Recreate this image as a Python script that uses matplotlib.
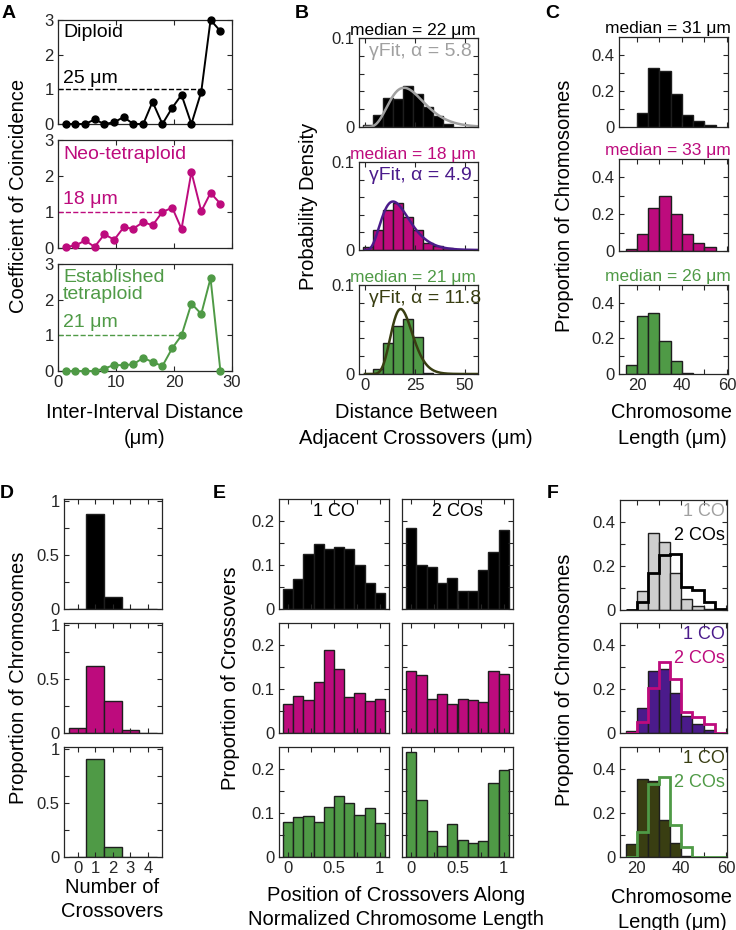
import math
import matplotlib.pyplot as plt
import numpy as np

plt.rcParams['font.family'] = ['Liberation Sans', 'DejaVu Sans']

W, H = 736, 930
fig = plt.figure(figsize=(W / 100, H / 100), dpi=100)

# colours
K = '#000000'
MAG = '#BD0B7D'
GRN = '#4F9A46'
PUR = '#4B1B8B'
OLV = '#393E12'
GFIT = '#A0A0A0'
GBAR = '#CECECE'
AXC = '#262626'
EDGE = '#1E1E1E'

TICK = 12
LABEL = 14.5
INNER = 14
TITLE = 12.5

# ======================
# data
# ======================
# A: coefficient of coincidence vs inter-interval distance (um)
coc_x = [1.3, 3.0, 4.7, 6.3, 8.0, 9.7, 11.3, 13.0, 14.7, 16.3, 18.0, 19.7, 21.3, 23.0, 24.7, 26.3, 28.0]
coc_diploid = [0, 0, 0, 0.13, 0, 0.05, 0.2, 0, 0, 0.64, 0, 0.47, 0.84, 0, 0.93, 3.0, 2.68]
coc_neo = [0.03, 0.07, 0.21, 0.03, 0.38, 0.23, 0.57, 0.54, 0.72, 0.63, 1.0, 1.12, 0.53, 2.11, 1.02, 1.53, 1.23]
coc_est = [0, 0, 0, 0, 0.07, 0.17, 0.16, 0.19, 0.37, 0.25, 0.14, 0.64, 1.0, 1.89, 1.6, 2.6, 0]
coc_names = ['Diploid', 'Neo-tetraploid', 'Established\ntetraploid']
coc_thresh = [25, 18, 21]

# B: distance between adjacent crossovers, probability density (bin width 5 um)
ico_edges = [-1, 4, 9, 14, 19, 24, 29, 34, 39, 44]
ico_diploid = [0.002, 0.014, 0.033, 0.031, 0.046, 0.037, 0.022, 0.012, 0.003]
ico_neo = [0.003, 0.023, 0.045, 0.053, 0.038, 0.023, 0.008, 0.004, 0.002]
ico_est = [0.0005, 0.006, 0.035, 0.054, 0.062, 0.042, 0.001, 0, 0]
ico_median = [22, 18, 21]
gamma_alpha = [5.8, 4.9, 11.8]
gamma_scale = [4.06, 3.59, 1.65]

# C: chromosome length distributions (bin width 5 um)
len_edges = [15, 20, 25, 30, 35, 40, 45, 50, 55, 60]
len_diploid = [0, 0.079, 0.33, 0.31, 0.184, 0.065, 0.033, 0.011, 0]
len_neo = [0.011, 0.092, 0.236, 0.30, 0.20, 0.09, 0.046, 0.022, 0]
len_est = [0.053, 0.326, 0.341, 0.184, 0.072, 0.007, 0, 0, 0]
len_median = [31, 33, 26]

# D: number of crossovers per chromosome
co_number = [0, 1, 2, 3, 4]
num_diploid = [0.004, 0.878, 0.108, 0, 0]
num_neo = [0.046, 0.625, 0.296, 0.031, 0]
num_est = [0.002, 0.905, 0.096, 0, 0]

# E: crossover position along normalized chromosome length
pos_centers = [0, 0.111, 0.222, 0.333, 0.444, 0.556, 0.667, 0.778, 0.889, 1.0]
pos_1co_diploid = [0.046, 0.069, 0.124, 0.148, 0.136, 0.141, 0.136, 0.101, 0.058, 0.037]
pos_2co_diploid = [0.184, 0.101, 0.095, 0.059, 0.071, 0.040, 0.040, 0.088, 0.130, 0.179]
pos_1co_neo = [0.066, 0.083, 0.075, 0.116, 0.188, 0.145, 0.081, 0.092, 0.073, 0.077]
pos_2co_neo = [0.142, 0.132, 0.077, 0.089, 0.065, 0.077, 0.074, 0.070, 0.142, 0.135]
pos_1co_est = [0.080, 0.092, 0.093, 0.080, 0.113, 0.139, 0.122, 0.095, 0.111, 0.078]
pos_2co_est = [0.239, 0.130, 0.060, 0.026, 0.074, 0.039, 0.031, 0.037, 0.168, 0.197]
pos_titles = ['1 CO', '2 COs']

# F: chromosome length split by crossover number (bins as in C)
f_1co_diploid = [0, 0.085, 0.348, 0.311, 0.170, 0.052, 0.019, 0.003, 0]
f_2co_diploid = [0, 0.035, 0.166, 0.249, 0.255, 0.104, 0.092, 0.037, 0.004]
f_1co_neo = [0.008, 0.113, 0.284, 0.29, 0.181, 0.078, 0.042, 0.015, 0]
f_2co_neo = [0, 0.048, 0.204, 0.325, 0.245, 0.094, 0.072, 0.042, 0]
f_1co_est = [0.06, 0.355, 0.347, 0.169, 0.065, 0.005, 0, 0, 0]
f_2co_est = [0, 0.113, 0.332, 0.362, 0.146, 0.045, 0, 0, 0]
f_labels = ['1 CO', '2 COs']


# ======================
# helpers
# ======================
def add_ax(l, t, r, b):
    return fig.add_axes([l / W, 1 - b / H, (r - l) / W, (b - t) / H])


def style(ax, xlabels=True):
    ax.tick_params(direction='in', top=True, right=True, length=3.5, width=0.8,
                   colors=AXC, labelsize=TICK, pad=3, labelbottom=xlabels)
    for s in ax.spines.values():
        s.set_color(AXC)
        s.set_linewidth(0.9)


def ticklabels(ax, ticks, shown, axis='y'):
    labs = [('%g' % t) if t in shown else '' for t in ticks]
    if axis == 'y':
        ax.set_yticks(ticks)
        ax.set_yticklabels(labs)
    else:
        ax.set_xticks(ticks)
        ax.set_xticklabels(labs)


def hist_bars(ax, edges, vals, color):
    for i, v in enumerate(vals):
        if v > 0:
            ax.bar(edges[i], v, width=edges[i + 1] - edges[i], align='edge',
                   color=color, edgecolor=EDGE, linewidth=1)


def ftext(x, y, s, **kw):
    fig.text(x / W, 1 - y / H, s, **kw)


def letter(x, y, s):
    ftext(x, y, s, fontsize=14, fontweight='bold', va='center', ha='left')


# ======================
# A
# ======================
a_rows = [(20, 124), (140, 248), (264, 371)]
a_data = [coc_diploid, coc_neo, coc_est]
a_cols = [K, MAG, GRN]
a_name_y = [2.65, 2.59, 2.38]
a_thr_y = [1.3, 1.36, 1.35]
for i, (t, b) in enumerate(a_rows):
    ax = add_ax(58, t, 232, b)
    c = a_cols[i]
    ax.plot(coc_x, a_data[i], '-o', color=c, lw=1.4, ms=5, clip_on=False, zorder=3)
    ax.plot([0, coc_thresh[i]], [1, 1], '--', color=c, lw=1)
    ax.set_xlim(0, 30)
    ax.set_ylim(0, 3)
    ax.set_yticks([0, 1, 2, 3])
    ax.set_xticks([0, 10, 20, 30])
    style(ax, xlabels=(i == 2))
    ax.text(0.9, a_name_y[i], coc_names[i], color=c, fontsize=INNER, va='center',
            linespacing=0.95)
    ax.text(0.9, a_thr_y[i], '%d μm' % coc_thresh[i], color=c, fontsize=INNER, va='center')
ftext(19, 196, 'Coefficient of Coincidence', rotation=90, fontsize=LABEL, ha='center', va='center')
ftext(145, 412, 'Inter-Interval Distance', fontsize=LABEL, ha='center', va='center')
ftext(145, 438, '(μm)', fontsize=LABEL, ha='center', va='center')
letter(2, 13, 'A')

# ======================
# B
# ======================
b_rows = [(38, 127), (162, 250), (285, 374)]
b_data = [ico_diploid, ico_neo, ico_est]
b_fill = [K, MAG, GRN]
b_fit = [GFIT, PUR, OLV]
xs = np.linspace(0.01, 56, 400)
for i, (t, b) in enumerate(b_rows):
    ax = add_ax(359, t, 478, b)
    hist_bars(ax, ico_edges, b_data[i], b_fill[i])
    a, th = gamma_alpha[i], gamma_scale[i]
    pdf = xs ** (a - 1) * np.exp(-xs / th) / (math.gamma(a) * th ** a)
    ax.plot(xs, pdf, color=b_fit[i], lw=1.8)
    ax.set_xlim(-3, 56.5)
    ax.set_ylim(0, 0.1)
    ticklabels(ax, [0, 0.02, 0.04, 0.06, 0.08, 0.1], [0, 0.1])
    ax.set_xticks([0, 25, 50])
    style(ax, xlabels=(i == 2))
    ax.text(1.8, 0.085, 'γFit, α = %g' % a, color=b_fit[i], fontsize=INNER, va='center')
    ax.set_title('median = %d μm' % ico_median[i], color=b_fill[i], fontsize=TITLE,
                 pad=2, x=0.45)
ftext(309, 206, 'Probability Density', rotation=90, fontsize=LABEL, ha='center', va='center')
ftext(416, 412, 'Distance Between', fontsize=LABEL, ha='center', va='center')
ftext(416, 438, 'Adjacent Crossovers (μm)', fontsize=LABEL, ha='center', va='center')
letter(295, 13, 'B')

# ======================
# C
# ======================
c_rows = [(37, 127), (159, 251), (285, 374)]
c_data = [len_diploid, len_neo, len_est]
for i, (t, b) in enumerate(c_rows):
    ax = add_ax(619, t, 728, b)
    hist_bars(ax, len_edges, c_data[i], b_fill[i])
    ax.set_xlim(12, 60.5)
    ax.set_ylim(0, 0.5)
    ticklabels(ax, [0, 0.1, 0.2, 0.3, 0.4], [0, 0.2, 0.4])
    ticklabels(ax, [20, 30, 40, 50, 60], [20, 40, 60], axis='x')
    style(ax, xlabels=(i == 2))
    ax.set_title('median = %d μm' % len_median[i], color=b_fill[i], fontsize=TITLE,
                 pad=3, x=0.45)
ftext(564, 206, 'Proportion of Chromosomes', rotation=90, fontsize=LABEL, ha='center', va='center')
ftext(672, 412, 'Chromosome', fontsize=LABEL, ha='center', va='center')
ftext(672, 438, 'Length (μm)', fontsize=LABEL, ha='center', va='center')
letter(545, 13, 'C')

# ======================
# D
# ======================
d_rows = [(499, 609), (623, 733), (747, 857)]
d_data = [num_diploid, num_neo, num_est]
for i, (t, b) in enumerate(d_rows):
    ax = add_ax(64, t, 162, b)
    ax.bar(co_number, d_data[i], width=1, color=b_fill[i], edgecolor=EDGE, linewidth=1)
    ax.set_xlim(-0.77, 4.8)
    ax.set_ylim(0, 1.02)
    ticklabels(ax, [0, 0.25, 0.5, 0.75, 1], [0, 0.5, 1])
    ax.set_xticks(co_number)
    style(ax, xlabels=(i == 2))
ftext(19, 678, 'Proportion of Chromosomes', rotation=90, fontsize=LABEL, ha='center', va='center')
ftext(112, 887, 'Number of', fontsize=LABEL, ha='center', va='center')
ftext(112, 911, 'Crossovers', fontsize=LABEL, ha='center', va='center')
letter(0, 493, 'D')

# ======================
# E
# ======================
e_rows = [(499, 609), (623, 733), (747, 857)]
e_cols = [(279, 389), (402, 513)]
e_data = [[pos_1co_diploid, pos_2co_diploid],
          [pos_1co_neo, pos_2co_neo],
          [pos_1co_est, pos_2co_est]]
for i, (t, b) in enumerate(e_rows):
    for j, (l, r) in enumerate(e_cols):
        ax = add_ax(l, t, r, b)
        ax.bar(pos_centers, e_data[i][j], width=1 / 9, color=b_fill[i],
               edgecolor=EDGE, linewidth=1)
        ax.set_xlim(-0.1, 1.1)
        ax.set_ylim(0, 0.25)
        ticklabels(ax, [0, 0.05, 0.1, 0.15, 0.2], [0, 0.1, 0.2])
        ticklabels(ax, [0, 0.25, 0.5, 0.75, 1], [0, 0.5, 1], axis='x')
        style(ax, xlabels=(i == 2))
        if j == 1:
            ax.tick_params(labelleft=False)
        if i == 0:
            ax.text(0.5, 0.222, pos_titles[j], fontsize=13, ha='center', va='center')
ftext(230, 678, 'Proportion of Crossovers', rotation=90, fontsize=LABEL, ha='center', va='center')
ftext(396, 895, 'Position of Crossovers Along', fontsize=LABEL, ha='center', va='center')
ftext(396, 919, 'Normalized Chromosome Length', fontsize=LABEL, ha='center', va='center')
letter(213, 494, 'E')

# ======================
# F
# ======================
f_rows = [(500, 610), (623, 733), (747, 857)]
f_one = [f_1co_diploid, f_1co_neo, f_1co_est]
f_two = [f_2co_diploid, f_2co_neo, f_2co_est]
f_fill = [GBAR, PUR, OLV]
f_line = [K, MAG, GRN]
f_txt1 = [GFIT, PUR, OLV]
for i, (t, b) in enumerate(f_rows):
    ax = add_ax(620, t, 727, b)
    hist_bars(ax, len_edges, f_one[i], f_fill[i])
    ax.stairs(f_two[i], len_edges, color=f_line[i], linewidth=2, baseline=0, zorder=3)
    ax.set_xlim(12.5, 60.5)
    ax.set_ylim(0, 0.5)
    ticklabels(ax, [0, 0.1, 0.2, 0.3, 0.4], [0, 0.2, 0.4])
    ticklabels(ax, [20, 30, 40, 50, 60], [20, 40, 60], axis='x')
    style(ax, xlabels=(i == 2))
    ax.text(0.98, 0.893, f_labels[0], color=f_txt1[i], fontsize=13,
            ha='right', va='center', transform=ax.transAxes)
    ax.text(0.98, 0.673, f_labels[1], color=f_line[i], fontsize=13,
            ha='right', va='center', transform=ax.transAxes)
ftext(565, 680, 'Proportion of Chromosomes', rotation=90, fontsize=LABEL, ha='center', va='center')
ftext(672, 897, 'Chromosome', fontsize=LABEL, ha='center', va='center')
ftext(672, 922, 'Length (μm)', fontsize=LABEL, ha='center', va='center')
letter(547, 493, 'F')

fig.savefig('out.png', dpi=100)
